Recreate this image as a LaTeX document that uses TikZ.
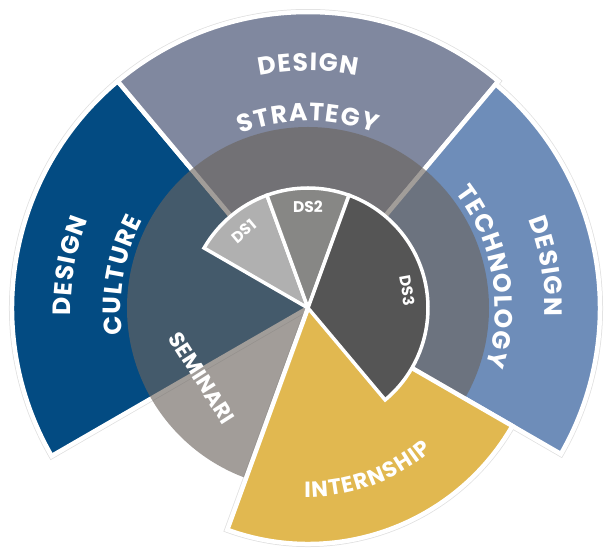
\documentclass[tikz,border=0pt]{standalone}
\usepackage{fontspec}
\newfontfamily\labfont{Poppins}
\usetikzlibrary{decorations.text}
\definecolor{cCulture}{RGB}{3,75,130}
\definecolor{cStrategy}{RGB}{128,136,159}
\definecolor{cTech}{RGB}{110,141,185}
\definecolor{cIntern}{RGB}{225,184,80}
\definecolor{cOver}{RGB}{107,100,94}
\definecolor{cDSa}{RGB}{176,176,176}
\definecolor{cDSb}{RGB}{135,135,133}
\definecolor{cDSc}{RGB}{85,85,85}
\newcommand\bigf{\labfont\bfseries\fontsize{25pt}{27pt}\selectfont}
\newcommand\midf{\labfont\bfseries\fontsize{22pt}{24pt}\selectfont}
\newcommand\semf{\labfont\bfseries\fontsize{21.5pt}{23pt}\selectfont}
\newcommand\smallf{\labfont\bfseries\fontsize{15.5pt}{17pt}\selectfont}
\newcommand\lsp{\kern1.2pt}
\begin{document}
\begin{tikzpicture}[x=1pt,y=1pt,
  outline/.style={draw=black!12, line width=6pt, line join=miter},
  wedge/.style={draw=white, line width=4.5pt, line join=miter},
  inwedge/.style={draw=white, line width=3.5pt, line join=miter},
  arclab/.style={decorate, decoration={text along path, text align=center, text color=white, text={#1}}},
  lab/.style={text=white, inner sep=0pt}
]
\useasboundingbox (-308pt,-245pt) rectangle (297pt,308pt);
% faint outer outlines
\path[outline] (0,0) -- (130:296pt) arc[start angle=130,end angle=210,radius=296pt] -- cycle;
\path[outline] (0,0) -- (50:296pt) arc[start angle=50,end angle=130,radius=296pt] -- cycle;
\path[outline] (0,0) -- (-30:292pt) arc[start angle=-30,end angle=50,radius=292pt] -- cycle;
\path[outline] (0,0) -- (250:236pt) arc[start angle=250,end angle=330,radius=236pt] -- cycle;
% outer wedges
\path[wedge, fill=cCulture] (0,0) -- (130:296pt) arc[start angle=130,end angle=210,radius=296pt] -- cycle;
\path[wedge, fill=cStrategy] (0,0) -- (50:296pt) arc[start angle=50,end angle=130,radius=296pt] -- cycle;
\path[wedge, fill=cTech] (0,0) -- (-30:292pt) arc[start angle=-30,end angle=50,radius=292pt] -- cycle;
% translucent middle ring
\fill[cOver, fill opacity=0.63] (0,0) circle[radius=181pt];
% internship
\path[wedge, fill=cIntern] (0,0) -- (250:236pt) arc[start angle=250,end angle=330,radius=236pt] -- cycle;
% inner pie
\path[inwedge, fill=cDSa] (0,0) -- (110:120pt) arc[start angle=110,end angle=150,radius=120pt] -- cycle;
\path[inwedge, fill=cDSb] (0,0) -- (70:120pt) arc[start angle=70,end angle=110,radius=120pt] -- cycle;
\path[inwedge, fill=cDSc] (0,0) -- (-50:120pt) arc[start angle=-50,end angle=70,radius=120pt] -- cycle;
% curved labels
\path[arclab={|\bigf|{D\lsp}{E\lsp}{S\lsp}{I\lsp}{G\lsp}N}] (125:237pt) arc[start angle=125,end angle=55,radius=237pt];
\path[arclab={|\bigf|{S\lsp}{T\lsp}{R\lsp}{A\lsp}{T\lsp}{E\lsp}{G\lsp}Y}] (130:187pt) arc[start angle=130,end angle=50,radius=187pt];
\path[arclab={|\bigf|{D\lsp}{E\lsp}{S\lsp}{I\lsp}{G\lsp}N}] (205:237pt) arc[start angle=205,end angle=135,radius=237pt];
\path[arclab={|\bigf|{C\lsp}{U\lsp}{L\lsp}{T\lsp}{U\lsp}{R\lsp}E}] (215:187pt) arc[start angle=215,end angle=125,radius=187pt];
\path[arclab={|\bigf|{D\lsp}{E\lsp}{S\lsp}{I\lsp}{G\lsp}N}] (45:237pt) arc[start angle=45,end angle=-25,radius=237pt];
\path[arclab={|\bigf|{T\lsp}{E\lsp}{C\lsp}{H\lsp}{N\lsp}{O\lsp}{L\lsp}{O\lsp}{G\lsp}Y}] (60:187pt) arc[start angle=60,end angle=-40,radius=187pt];
\path[arclab={|\midf|{I\lsp}{N\lsp}{T\lsp}{E\lsp}{R\lsp}{N\lsp}{S\lsp}{H\lsp}{I\lsp}P}] (250:189pt) arc[start angle=250,end angle=330,radius=189pt];
% straight labels
\node[lab, font=\semf, rotate=-57.5] (sem) at (-106pt,-70pt) {SEMINARI};
\node[lab, font=\smallf, rotate=40] (ds1) at (130:100pt) {DS1};
\node[lab, font=\smallf] (ds2) at (90:101pt) {DS2};
\node[lab, font=\smallf, rotate=-80] (ds3) at (10:101pt) {DS3};
\end{tikzpicture}
\end{document}
